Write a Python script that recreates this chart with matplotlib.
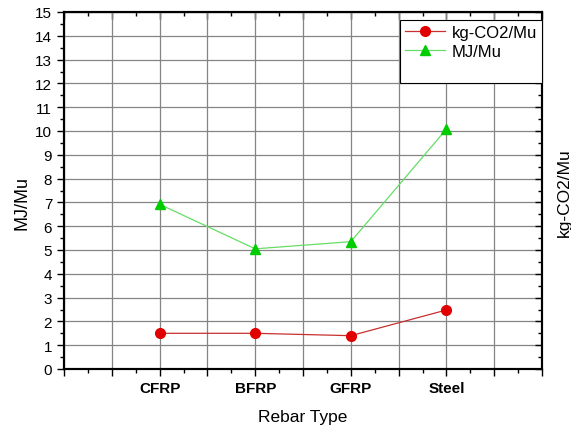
import numpy as np
import matplotlib
matplotlib.use("Agg")
import matplotlib.pyplot as plt
from matplotlib.lines import Line2D
from matplotlib.ticker import MultipleLocator, NullFormatter

plt.rcParams['font.family'] = ['Liberation Sans', 'DejaVu Sans']

# data
rebar_types = ['CFRP', 'BFRP', 'GFRP', 'Steel']
x_pos = [2, 4, 6, 8]
mj_per_mu = [6.92, 5.05, 5.35, 10.08]
co2_per_mu = [1.50, 1.50, 1.40, 2.48]

fig = plt.figure(figsize=(5.71, 4.27), dpi=100)
ax = fig.add_axes([64 / 571, 1 - 370 / 427, 478 / 571, 357 / 427])
ax2 = ax.twinx()

ax.set_xlim(0, 10)
ax.set_ylim(0, 15)
ax2.set_ylim(0, 15)

# grid
ax.xaxis.set_major_locator(MultipleLocator(1))
ax.xaxis.set_minor_locator(MultipleLocator(0.5))
ax.yaxis.set_major_locator(MultipleLocator(1))
ax.yaxis.set_minor_locator(MultipleLocator(0.5))
ax.grid(True, which='major', color='#858585', linewidth=0.9)
ax.set_axisbelow(True)

ax.set_xticks(range(11))
ax.set_xticklabels(['' if i not in x_pos else rebar_types[x_pos.index(i)] for i in range(11)],
                   fontweight='bold', fontsize=11)
ax.tick_params(axis='x', which='major', direction='out', length=5, width=1, top=False, pad=4)
ax.tick_params(axis='x', which='minor', direction='out', length=3, width=1, top=False)
ax.tick_params(axis='y', which='major', direction='out', length=5, width=1, labelsize=11)
ax.tick_params(axis='y', which='minor', direction='out', length=3, width=1)

# top ticks drawn inward via secondary axis
top = ax.secondary_xaxis('top')
top.xaxis.set_major_locator(MultipleLocator(1))
top.xaxis.set_minor_locator(MultipleLocator(0.5))
top.xaxis.set_major_formatter(NullFormatter())
top.tick_params(which='major', direction='in', length=5, width=1)
top.tick_params(which='minor', direction='in', length=3, width=1)

ax2.yaxis.set_major_locator(MultipleLocator(1))
ax2.yaxis.set_minor_locator(MultipleLocator(0.5))
ax2.yaxis.set_major_formatter(NullFormatter())
ax2.tick_params(axis='y', which='major', direction='in', length=5, width=1)
ax2.tick_params(axis='y', which='minor', direction='in', length=3, width=1)

for a in (ax, ax2):
    for s in a.spines.values():
        s.set_linewidth(1.5)

l1, = ax2.plot(x_pos, co2_per_mu, color='#c83030', linewidth=0.9, marker='o',
               markersize=7, markerfacecolor='#e00000', markeredgecolor='#e00000',
               label='kg-CO2/Mu')
l2, = ax.plot(x_pos, mj_per_mu, color='#66dd66', linewidth=0.9, marker='^',
              markersize=7, markerfacecolor='#00cc00', markeredgecolor='#00cc00',
              label='MJ/Mu')
blank = Line2D([], [], linestyle='none', label=' ')

ax.set_xlabel('Rebar Type', fontsize=12.5, va='center')
ax.xaxis.set_label_coords(0.5, -0.134)
ax.set_ylabel('MJ/Mu', fontsize=13, va='center', ha='center')
ax.yaxis.set_label_coords(-0.087, 0.468)
ax2.set_ylabel('kg-CO2/Mu', fontsize=12.5, rotation=90, va='center', ha='center')
ax2.yaxis.set_label_coords(1.046, 0.497)

leg = ax2.legend(handles=[l1, l2, blank], loc='upper right', bbox_to_anchor=(1.0, 0.978),
                 fontsize=12, frameon=True, fancybox=False, framealpha=1,
                 edgecolor='black', borderpad=0.3, handlelength=2.4,
                 borderaxespad=0, labelspacing=0.25, handletextpad=0.4)
leg.get_frame().set_linewidth(0.8)

fig.savefig('out.png', dpi=100)
